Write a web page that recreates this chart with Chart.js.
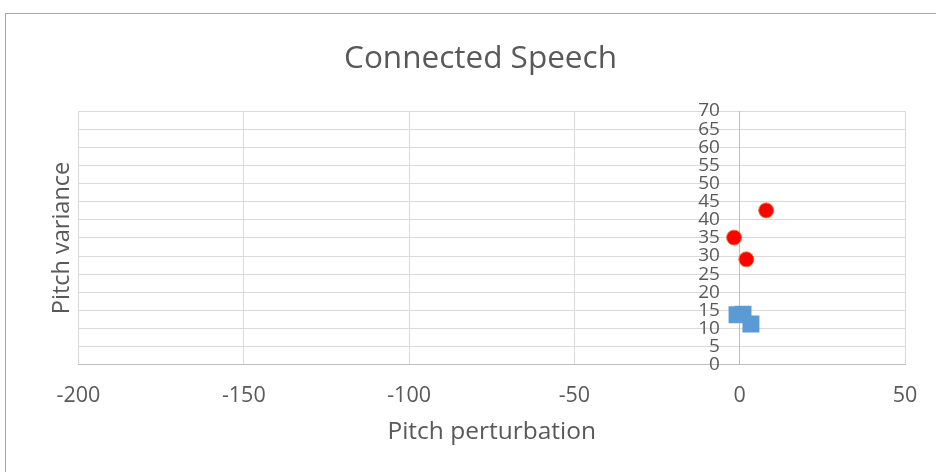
<!DOCTYPE html>
<html>
<head>
<meta charset="utf-8">
<script src="https://cdn.jsdelivr.net/npm/chart.js@4/dist/chart.umd.min.js"></script>
<style>
  html, body { margin: 0; padding: 0; background: #ffffff; overflow: hidden; }
  #wrap { position: relative; width: 936px; height: 472px; }
  #frame { position: absolute; left: 5px; top: 13px; width: 980px; height: 520px;
           border: 1px solid #a6a6a6; box-sizing: border-box; pointer-events: none; }
  canvas { position: absolute; left: 0; top: 0; }
</style>
</head>
<body>
<div id="wrap">
  <canvas id="chart" width="936" height="472"></canvas>
  <div id="frame"></div>
</div>
<script>
// Pitch perturbation (x) vs pitch variance (y), two groups
const redPerturbation = [8.0, -1.7, 2.0];
const redVariance     = [42.6, 35.1, 29.1];
const bluePerturbation = [-0.8, 1.0, 3.4];
const blueVariance     = [13.8, 14.0, 11.3];

const xTicks = [-200, -150, -100, -50, 0, 50];
const yTicks = [0, 5, 10, 15, 20, 25, 30, 35, 40, 45, 50, 55, 60, 65, 70];

const chartTitle = 'Connected Speech';
const xTitle = 'Pitch perturbation';
const yTitle = 'Pitch variance';

const toPoints = (xs, ys) => xs.map((x, i) => ({ x: x, y: ys[i] }));

const textColor = '#595959';
const gridColor = '#d9d9d9';
const axisColor = '#bfbfbf';
const fontFamily = '"Open Sans", "DejaVu Sans", sans-serif';

// The y axis sits on x = 0, where Chart.js ignores ticks.padding;
// trailing spaces keep its labels clear of the axis line.
const yLabelGap = '    ';

new Chart(document.getElementById('chart'), {
  type: 'scatter',
  data: {
    datasets: [
      {
        label: 'Series 1',
        data: toPoints(bluePerturbation, blueVariance),
        pointStyle: 'rect',
        pointRadius: 12,
        backgroundColor: '#5b9bd5',
        borderColor: '#5b9bd5',
        borderWidth: 0
      },
      {
        label: 'Series 2',
        data: toPoints(redPerturbation, redVariance),
        pointStyle: 'circle',
        pointRadius: 7.5,
        backgroundColor: '#ff0000',
        borderColor: '#ed7d31',
        borderWidth: 1
      }
    ]
  },
  options: {
    responsive: false,
    animation: false,
    events: [],
    layout: { padding: { top: 0, left: 56, right: 31, bottom: 25.3 } },
    plugins: {
      legend: { display: false },
      tooltip: { enabled: false },
      title: {
        display: true,
        text: chartTitle,
        color: textColor,
        font: { family: fontFamily, size: 31.5, weight: 'normal', lineHeight: 1.2 },
        padding: { top: 40.5, bottom: 32.7 }
      }
    },
    scales: {
      x: {
        type: 'linear',
        min: xTicks[0],
        max: xTicks[xTicks.length - 1],
        afterBuildTicks: (scale) => { scale.ticks = xTicks.map(v => ({ value: v })); },
        ticks: {
          color: textColor,
          font: { family: fontFamily, size: 21.5, lineHeight: 1.2 },
          padding: 18.1,
          maxRotation: 0,
          autoSkip: false
        },
        grid: { color: gridColor, lineWidth: 1, drawTicks: false },
        border: { display: true, color: axisColor, width: 1 },
        title: {
          display: true,
          text: xTitle,
          color: textColor,
          font: { family: fontFamily, size: 24.5, lineHeight: 1.2 },
          padding: { top: -9.6, bottom: 0 }
        }
      },
      y: {
        type: 'linear',
        position: { x: 0 },
        min: yTicks[0],
        max: yTicks[yTicks.length - 1],
        afterBuildTicks: (scale) => { scale.ticks = yTicks.map(v => ({ value: v })); },
        ticks: {
          color: textColor,
          font: { family: fontFamily, size: 19, lineHeight: 1.0 },
          autoSkip: false,
          callback: (value) => String(value) + yLabelGap
        },
        grid: { color: gridColor, lineWidth: 1, drawTicks: false },
        border: { display: true, color: axisColor, width: 1 }
      },
      yLabel: {
        type: 'linear',
        position: 'left',
        min: yTicks[0],
        max: yTicks[yTicks.length - 1],
        ticks: { display: false },
        grid: { display: false, drawTicks: false },
        border: { display: false },
        title: {
          display: true,
          text: yTitle,
          color: textColor,
          font: { family: fontFamily, size: 23.5, lineHeight: 1.2 },
          padding: { top: -8.1, bottom: 2.4 }
        }
      }
    }
  }
});
</script>
</body>
</html>
